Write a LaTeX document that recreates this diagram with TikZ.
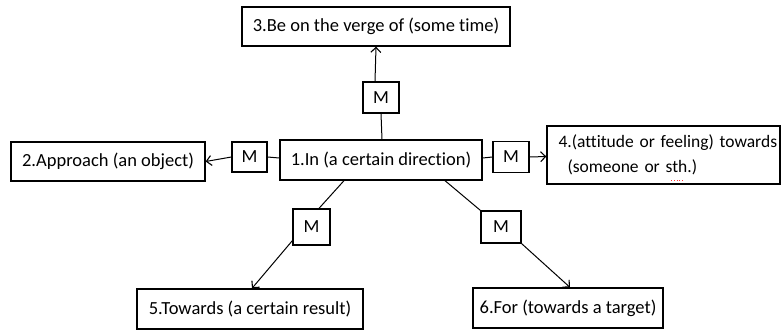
\documentclass[tikz,border=0pt]{standalone}
\usepackage{fontspec}
\setmainfont[Ligatures=NoCommon]{Carlito}
\usetikzlibrary{arrows.meta}
\begin{document}
\begin{tikzpicture}[x=1pt,y=-1pt,
  box/.style={draw,line width=1.3pt,inner sep=0pt,font=\fontsize{18.5}{22}\selectfont,anchor=center},
  mbox/.style={draw,line width=1.3pt,inner sep=0pt,font=\fontsize{18.5}{22}\selectfont,anchor=center},
  conn/.style={line width=1pt},
  arr/.style={line width=1pt,-{Straight Barb[length=5pt,width=10pt,line width=1.1pt]}}]
\useasboundingbox (0,0) rectangle (781,330);
\node[box,minimum width=268pt,minimum height=39pt] (b3) at (376,26.5) {3.Be on the verge of (some time)};
\node[box,minimum width=194pt,minimum height=39pt] (b2) at (108,161.5) {2.Approach (an object)};
\node[box,minimum width=202pt,minimum height=40pt] (b1) at (381,160) {1.In (a certain direction)};
\node[box,minimum width=233pt,minimum height=58pt,text width=226pt,inner xsep=3.5pt,align=left,font=\fontsize{17.5}{21}\selectfont] (b4) at (663.5,155) {\mbox{\hspace*{8pt}4.(attitude or feeling) towards}\\[4pt]\mbox{\hspace*{17pt}(someone or sth.)}};
\node[box,minimum width=226pt,minimum height=40pt] (b5) at (250,309) {5.Towards (a certain result)};
\node[box,minimum width=190pt,minimum height=40pt] (b6) at (568,308) {6.For (towards a target)};
\node[mbox,minimum width=36pt,minimum height=31pt] (mt) at (381,97.5) {M};
\node[mbox,minimum width=35pt,minimum height=30pt] (ml) at (249.5,157) {M};
\node[mbox,minimum width=36pt,minimum height=31pt] (mr) at (511,157) {M};
\node[mbox,minimum width=37pt,minimum height=36pt] (mbl) at (311.5,227) {M};
\node[mbox,minimum width=40pt,minimum height=32pt] (mbr) at (501,227) {M};
% spell-check mark under "sth"
\draw[red!80,dotted,line width=0.7pt] ([xshift=125pt,yshift=4pt]b4.south west) -- ([xshift=138pt,yshift=4pt]b4.south west);
% top
\draw[conn] ([xshift=1pt]b1.north) -- (mt.south);
\draw[arr] ([xshift=-6pt]mt.north) -- (b3.south);
% left
\draw[conn] ([yshift=2pt]b1.west) -- (ml.east);
\draw[arr] (ml.west) -- (b2.east);
% right
\draw[conn] ([yshift=2pt]b1.east) -- (mr.west);
\draw[arr] (mr.east) -- ([yshift=-1.5pt]b4.west);
% bottom left
\draw[conn] ([xshift=-37pt]b1.south) -- ([xshift=7.5pt]mbl.north);
\draw[arr] ([yshift=5pt]mbl.south west) -- ([xshift=2pt]b5.north);
% bottom right
\draw[conn] ([xshift=64pt]b1.south) -- (mbr.north west);
\draw[arr] (mbr.south east) -- ([xshift=2pt]b6.north);
\end{tikzpicture}
\end{document}
